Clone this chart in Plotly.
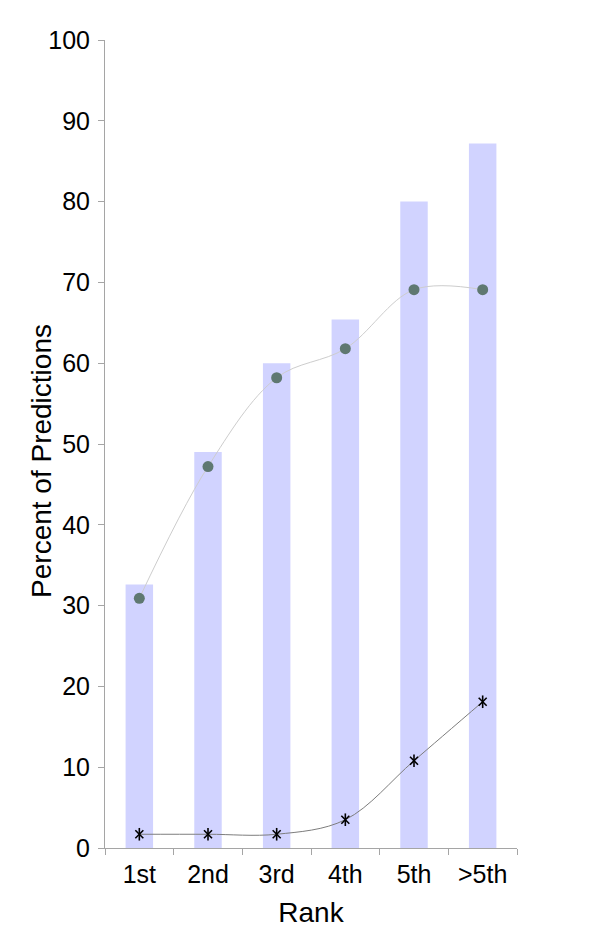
import plotly.graph_objects as go

# du lieu doc tu hinh
ranks = ["1st", "2nd", "3rd", "4th", "5th", ">5th"]
bar_values = [32.6, 49.0, 60.0, 65.4, 80.0, 87.2]
dot_values = [30.9, 47.2, 58.2, 61.8, 69.1, 69.1]
star_values = [1.7, 1.7, 1.7, 3.5, 10.8, 18.1]
y_ticks = list(range(0, 101, 10))

font_name = "Liberation Sans, Arial, Helvetica, sans-serif"
axis_grey = "rgb(165,165,165)"

fig = go.Figure()

# cot
fig.add_trace(go.Bar(x=ranks, y=bar_values, marker=dict(color="rgb(209,211,255)", line=dict(width=0)),
                     width=0.4, showlegend=False))

# duong cong + diem tron
fig.add_trace(go.Scatter(x=ranks, y=dot_values, mode="lines+markers",
                         line=dict(color="rgb(205,205,205)", width=1, shape="spline", smoothing=1),
                         marker=dict(color="rgb(95,120,113)", size=11, line=dict(width=0)),
                         showlegend=False))

# duong cong + dau sao (x va gach dung)
fig.add_trace(go.Scatter(x=ranks, y=star_values, mode="lines+markers",
                         line=dict(color="rgb(125,125,125)", width=1, shape="spline", smoothing=1),
                         marker=dict(symbol="x-thin-open", color="black", size=8, line=dict(width=1.6, color="black")),
                         showlegend=False))
fig.add_trace(go.Scatter(x=ranks, y=star_values, mode="markers",
                         marker=dict(symbol="line-ns-open", color="black", size=9, line=dict(width=1.6, color="black")),
                         showlegend=False))

# trang co le 8px cua body -> bu lai o margin
fig.update_layout(
    width=600, height=938,
    margin=dict(l=97, r=91, t=32, b=98),
    plot_bgcolor="white", paper_bgcolor="white",
    font=dict(family=font_name, color="black"),
    bargap=0.6,
)

fig.update_xaxes(
    type="category", range=[-0.5, 5.5],
    showline=True, linecolor=axis_grey, linewidth=1,
    ticks="outside", tickson="boundaries", ticklen=6, tickcolor=axis_grey,
    tickfont=dict(size=25), ticklabelstandoff=4,
    showgrid=False, zeroline=False,
    title=dict(text="Rank", font=dict(size=28), standoff=15),
)

fig.update_yaxes(
    range=[0, 100], tickvals=y_ticks,
    showline=True, linecolor=axis_grey, linewidth=1,
    ticks="outside", ticklen=6, tickcolor=axis_grey,
    tickfont=dict(size=25), ticklabelstandoff=3,
    showgrid=False, zeroline=False,
)

# tieu de truc y hoi lech xuong duoi nhu hinh goc
fig.add_annotation(text="Percent of Predictions", textangle=-90, showarrow=False,
                   xref="paper", yref="paper", x=-0.153, y=0.479,
                   xanchor="center", yanchor="middle", font=dict(size=28))

fig.write_html("out.html")
